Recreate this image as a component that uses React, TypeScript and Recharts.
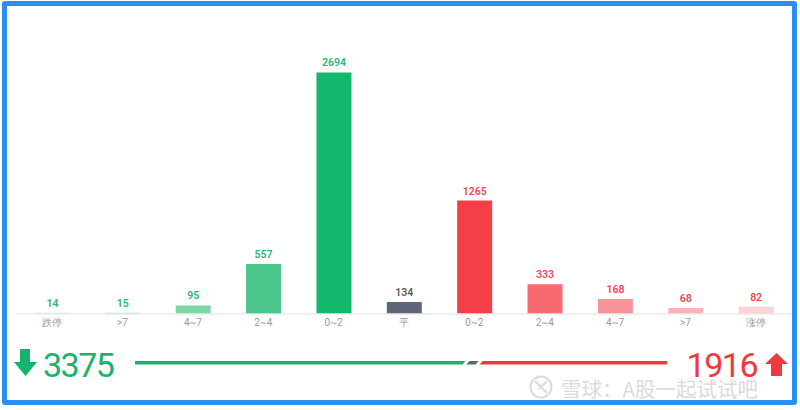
import { BarChart, Bar, XAxis, YAxis, Cell, LabelList } from "recharts";

const categories = ["跌停", ">7", "4~7", "2~4", "0~2", "平", "0~2", "2~4", "4~7", ">7", "涨停"];
const counts = [14, 15, 95, 557, 2694, 134, 1265, 333, 168, 68, 82];
const downIdx = [0, 1, 2, 3, 4];
const flatIdx = [5];
const upIdx = [6, 7, 8, 9, 10];

const BAR_COLORS = [
  "#bfe9d3", "#a9e3c4", "#7fd6a9", "#4ac68b", "#14b86c",
  "#5f6678",
  "#f43f48", "#f66a70", "#f89499", "#f9b4b9", "#fbd3d6",
];
const LABEL_COLORS = [
  "#2db37a", "#2db37a", "#2db37a", "#2db37a", "#2db37a",
  "#5a5a5a",
  "#ea4a52", "#ea4a52", "#ea4a52", "#ea4a52", "#ea4a52",
];

const sum = (idx: number[]) => idx.reduce((s, i) => s + counts[i], 0);
const down = sum(downIdx);
const flat = sum(flatIdx);
const up = sum(upIdx);

const rows = counts.map((v, i) => ({ idx: i, value: v }));
const splitRow = [{ name: "all", down, flat, up }];

const GREEN = "#17b26c";
const RED = "#f0383f";
const GREY = "#5f6678";

function renderLabel(props: any) {
  const { x, y, width, value, index } = props;
  return (
    <text
      x={x + width / 2}
      y={y - 6}
      textAnchor="middle"
      fontSize={10.5}
      fontWeight={600}
      fill={LABEL_COLORS[index]}
      fontFamily="Roboto, sans-serif"
    >
      {value}
    </text>
  );
}

// segments of the split line, "/" shaped joints with small gaps
const G = 2;
const S = 3;
function segShape(first: boolean, last: boolean, color: string) {
  return (props: any) => {
    const { x, y, width, height } = props;
    const l = x;
    const r = x + width;
    const lt = first ? l : l + G + S / 2;
    const lb = first ? l : l + G - S / 2;
    const rt = last ? r : r - G + S / 2;
    const rb = last ? r : r - G - S / 2;
    return (
      <polygon
        points={`${lt},${y} ${rt},${y} ${rb},${y + height} ${lb},${y + height}`}
        fill={color}
      />
    );
  };
}

export default function App() {
  return (
    <div
      style={{
        position: "fixed",
        left: 0,
        top: 0,
        width: 800,
        height: 410,
        background: "#fff",
        overflow: "hidden",
        fontFamily: "Roboto, sans-serif",
      }}
    >
      <div style={{ position: "absolute", left: 0, top: 0 }}>
        <BarChart
          width={800}
          height={410}
          data={rows}
          margin={{ top: 45, right: 9, bottom: 66, left: 17 }}
        >
          <YAxis hide width={0} domain={[0, 3000]} />
          <XAxis
            dataKey="idx"
            tickFormatter={(i: number) => categories[i]}
            tickLine={false}
            tickSize={3}
            axisLine={{ stroke: "#ebebeb", strokeWidth: 1.5 }}
            tick={{ fontSize: 10, fill: "#9a9a9a" }}
            interval={0}
            height={30}
          />
          <Bar dataKey="value" barSize={35} isAnimationActive={false}>
            {rows.map((r) => (
              <Cell key={r.idx} fill={BAR_COLORS[r.idx]} />
            ))}
            <LabelList dataKey="value" position="top" content={renderLabel} />
          </Bar>
        </BarChart>
      </div>

      <div style={{ position: "absolute", left: 135, top: 361 }}>
        <BarChart
          width={532}
          height={4}
          data={splitRow}
          layout="vertical"
          margin={{ top: 0, right: 0, bottom: 0, left: 0 }}
        >
          <XAxis type="number" hide domain={[0, down + flat + up]} />
          <YAxis type="category" dataKey="name" hide width={0} />
          <Bar dataKey="down" stackId="s" barSize={4} isAnimationActive={false} shape={segShape(true, false, GREEN)} />
          <Bar dataKey="flat" stackId="s" barSize={4} isAnimationActive={false} shape={segShape(false, false, GREY)} />
          <Bar dataKey="up" stackId="s" barSize={4} isAnimationActive={false} shape={segShape(false, true, RED)} />
        </BarChart>
      </div>

      <svg
        width={800}
        height={410}
        style={{ position: "absolute", left: 0, top: 0, pointerEvents: "none" }}
      >
        {/* watermark */}
        <g opacity={0.75}>
          <circle cx={541} cy={387} r={10.5} fill="none" stroke="#cfcfcf" strokeWidth={2} />
          <path d="M535,381 L547,393 M547,381 L539,389" stroke="#cfcfcf" strokeWidth={2} fill="none" />
          <text x={561} y={397} fontSize={20.5} fill="#cfcfcf" fontFamily="'Noto Sans CJK SC', sans-serif">
            雪球：A股一起试试吧
          </text>
        </g>
        {/* down arrow */}
        <polygon points="20,349 30,349 30,362 37,362 25.5,376 14,362 20,362" fill={GREEN} />
        <text x={43} y={377} fontSize={34} fill={GREEN} letterSpacing={-1.5} fontFamily="Roboto, sans-serif">
          {down}
        </text>
        {/* up arrow */}
        <polygon points="776.5,353 788,364 782,364 782,376 771,376 771,364 765,364" fill={RED} />
        <text x={757} y={377} fontSize={34} fill={RED} letterSpacing={-1.5} textAnchor="end" fontFamily="Roboto, sans-serif">
          {up}
        </text>
      </svg>

      <div
        style={{
          position: "absolute",
          left: 2,
          top: 1,
          width: 795,
          height: 404,
          boxSizing: "border-box",
          border: "5px solid #2a8ff2",
          borderRadius: 3,
        }}
      />
    </div>
  );
}
